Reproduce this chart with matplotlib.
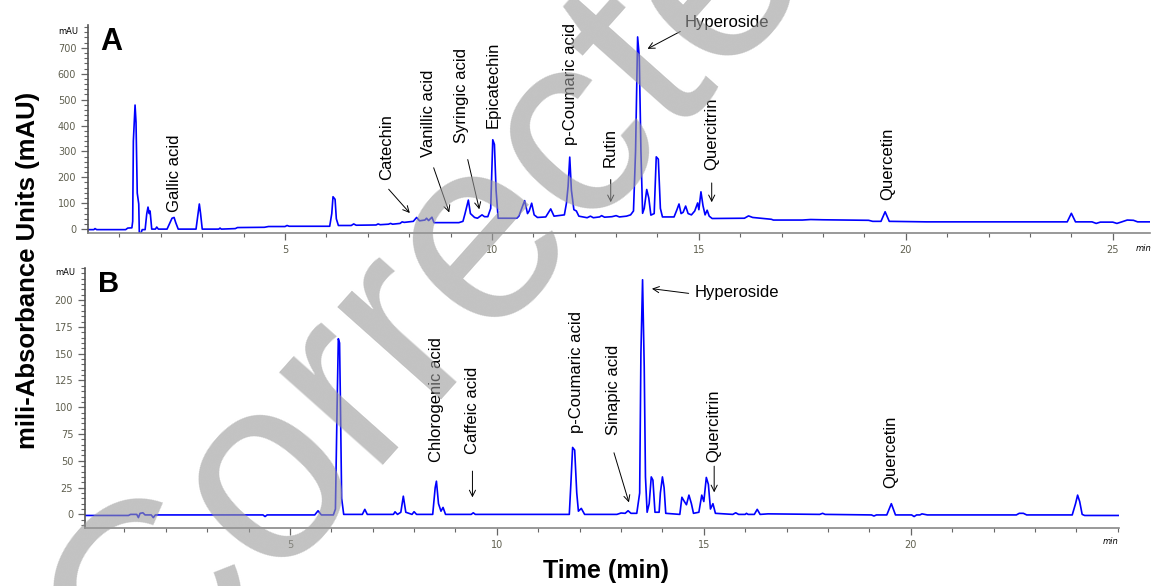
import matplotlib
matplotlib.use("Agg")
import matplotlib.pyplot as plt
from matplotlib.ticker import MultipleLocator

plt.rcParams['font.family'] = ['Liberation Sans', 'DejaVu Sans']

# Chromatogram A (time in min, absorbance in mAU)
time_a = [0.24, 0.38, 0.41, 0.45, 1.15, 1.20, 1.30, 1.32, 1.336, 1.377, 1.40, 1.43, 1.466, 1.48, 1.52, 1.55,
          1.62, 1.66, 1.69, 1.72, 1.74, 1.78, 1.87, 1.90, 1.94, 2.15, 2.22, 2.27, 2.32, 2.36, 2.42,
          2.85, 2.90, 2.93, 2.96, 3.00, 3.40, 3.43, 3.46, 3.80, 3.85, 4.5, 4.6, 5.0, 5.05, 5.1, 6.05,
          6.08, 6.13, 6.16, 6.21, 6.24, 6.29, 6.6, 6.66, 6.72, 7.2, 7.25, 7.3, 7.5, 7.55, 7.6, 7.78, 7.83,
          7.88, 8.1, 8.18, 8.25, 8.38, 8.42, 8.47, 8.55, 8.6, 9.2, 9.3, 9.35, 9.43, 9.48, 9.58, 9.65,
          9.76, 9.82, 9.9, 9.97, 10.02, 10.06, 10.1, 10.15, 10.6, 10.65, 10.72, 10.79, 10.86, 10.9,
          10.96, 11.02, 11.1, 11.3, 11.42, 11.5, 11.75, 11.8, 11.84, 11.88, 11.92, 11.98, 12.04, 12.1,
          12.3, 12.38, 12.45, 12.6, 12.65, 12.72, 12.9, 13.0, 13.08, 13.25, 13.35, 13.42, 13.47, 13.52,
          13.56, 13.6, 13.64, 13.68, 13.74, 13.79, 13.84, 13.92, 13.97, 14.02, 14.07, 14.12, 14.4,
          14.47, 14.52, 14.57, 14.62, 14.68, 14.74, 14.82, 14.9, 14.97, 15.0, 15.05, 15.1, 15.15, 15.2,
          15.25, 15.32, 16.1, 16.2, 16.3, 16.5, 16.75, 16.8, 17.5, 17.7, 18.0, 18.5, 19.1, 19.2, 19.4,
          19.5, 19.6, 20.5, 23.9, 24.0, 24.1, 24.5, 24.6, 24.7, 25.0, 25.1, 25.2, 25.35, 25.5, 25.6, 25.9]
mau_a = [-2, -2, 2, -2, -2, 4, 5, 30, 340, 479, 413, 139, 97, -15, -15, -2,
         -2, 60, 85, 60, 70, 0, 0, 8, 0, 0, 25, 42, 45, 25, 0,
         0, 60, 97, 60, 0, 0, 4, 0, 2, 6, 7, 10, 10, 14, 11, 11,
         11, 60, 125, 115, 40, 14, 14, 20, 15, 16, 20, 17, 19, 22, 19, 22, 28,
         26, 30, 45, 32, 35, 42, 33, 46, 25, 25, 30, 60, 112, 60, 45, 42,
         55, 48, 48, 80, 345, 327, 150, 42, 42, 50, 80, 110, 60, 70,
         100, 55, 45, 47, 78, 50, 55, 100, 165, 278, 150, 75, 70, 50,
         44, 50, 44, 47, 52, 46, 48, 52, 47, 50, 55, 70, 300, 742,
         665, 300, 61, 80, 153, 120, 54, 60, 279, 270, 80, 47, 47,
         75, 97, 60, 65, 89, 60, 55, 70, 101, 75, 144, 90, 55, 73,
         50, 41, 42, 51, 45, 42, 38, 35, 35, 37, 36, 35, 34, 30, 30,
         67, 30, 28, 28, 61, 28, 28, 22, 27, 27, 22, 27, 35, 34, 28, 28]

# Chromatogram B
time_b = [0.05, 1.1, 1.15, 1.3, 1.34, 1.38, 1.45, 1.5, 1.65, 1.7, 1.75, 4.35, 4.4, 4.45, 5.6, 5.68,
          5.76, 6.05, 6.1, 6.14, 6.17, 6.2, 6.22, 6.25, 6.3, 6.75, 6.81, 6.87, 7.5, 7.54, 7.6, 7.68,
          7.74, 7.8, 7.95, 8.0, 8.06, 8.45, 8.51, 8.54, 8.59, 8.65, 8.7, 8.76, 9.38, 9.43, 9.48, 11.75,
          11.79, 11.83, 11.88, 11.93, 11.97, 12.04, 12.12, 12.9, 13.0, 13.1, 13.17, 13.24, 13.38, 13.45,
          13.48, 13.52, 13.56, 13.59, 13.63, 13.68, 13.73, 13.77, 13.82, 13.92, 13.95, 14.0, 14.04,
          14.08, 14.42, 14.47, 14.53, 14.58, 14.64, 14.7, 14.75, 14.88, 14.95, 15.0, 15.06, 15.11,
          15.16, 15.22, 15.28, 15.7, 15.77, 15.84, 16.0, 16.03, 16.07, 16.22, 16.29, 16.36, 16.55,
          17.8, 17.87, 17.93, 19.05, 19.11, 19.17, 19.42, 19.53, 19.63, 20.02, 20.08, 20.14, 20.22,
          20.27, 20.4, 22.55, 22.62, 22.72, 22.8, 23.9, 23.98, 24.03, 24.08, 24.14, 24.2, 25.03]
mau_b = [-1, -1, 0, 0, -3, 1, 1.5, -0.5, -0.5, -3, -0.5, -0.5, -2, -0.5, -0.5, 3.4,
         -0.5, -0.5, 5, 100, 164, 160, 107, 15, 0, 0, 4.7, 0, 0, 2.4, 0, 2,
         17, 2, 0, 2.5, 0, 0, 25, 31, 10, 3, 6.5, 0, 0, 1.5, 0, 0,
         30, 62.5, 60, 20, 3, 5.6, 0, 0, 1.3, 1, 3.4, 1, 1, 20,
         150, 219, 138, 35, 2, 10, 35, 32, 2, 2, 20, 35, 25,
         1, 0, 16, 12, 9, 18, 10, 1, 2, 18, 12, 34.5, 28,
         5, 10, 1, 0, 1.5, 0, 0, 1, 0, 0, 4.7, 0, 0.5,
         0, 1, 0, -0.5, -1.5, -0.5, -0.5, 10, -0.5, -0.5, -2, -0.5, -0.5,
         0.5, -0.5, -0.5, 1, 1, -0.5, -0.5, 10, 18, 12, 0, -1, -1]

# Peak labels: name, label time, label bottom; arrows as (start, tip)
labels_a = ["Gallic acid", "Catechin", "Vanillic acid", "Syringic acid", "Epicatechin",
            "p-Coumaric acid", "Rutin", "Quercitrin", "Quercetin"]
label_t_a = [2.34, 7.46, 8.46, 9.27, 10.03, 11.91, 12.85, 15.31, 19.57]
label_y_a = [66, 189, 279, 331, 389, 324, 240, 228, 112]
arrows_a = [((7.46, 162), (8.06, 54)), ((8.57, 247), (8.99, 54)), ((9.40, 279), (9.71, 66)),
            ((12.87, 202), (12.87, 93)), ((15.31, 189), (15.31, 93)), ((14.61, 768), (13.70, 691))]

labels_b = ["Chlorogenic acid", "Caffeic acid", "p-Coumaric acid", "Sinapic acid", "Quercitrin",
            "Quercetin"]
label_t_b = [8.54, 9.41, 11.93, 12.81, 15.25, 19.51]
label_y_b = [49, 56, 75.6, 74, 49, 25]
arrows_b = [((9.41, 43), (9.41, 13.3)), ((12.81, 60), (13.21, 8.7)), ((15.25, 47.6), (15.25, 18)),
            ((14.70, 206), (13.68, 211))]

fig = plt.figure(figsize=(11.52, 5.86), dpi=100)
W, H = 1152.0, 586.0

ax_a = fig.add_axes([88 / W, 1 - 233 / H, (1150 - 88) / W, (233 - 25) / H])
ax_b = fig.add_axes([85 / W, 1 - 528 / H, (1119 - 85) / W, (528 - 268) / H])

tick_col = "#5f5f4f"
for ax in (ax_a, ax_b):
    for s in ("top", "right"):
        ax.spines[s].set_visible(False)
    ax.spines["left"].set_color("#555555")
    ax.spines["bottom"].set_color("#888888")
    ax.spines["left"].set_linewidth(1.2)
    ax.spines["bottom"].set_linewidth(1.2)
    ax.xaxis.set_minor_locator(MultipleLocator(1))
    ax.tick_params(axis="both", which="major", labelsize=7, labelcolor=tick_col, color="#666666",
                   length=5, width=0.9, direction="out")
    ax.tick_params(axis="both", which="minor", color="#666666", length=3, width=0.8, direction="out")
    ax.set_facecolor("none")

ax_a.plot(time_a, mau_a, color="#0000ff", lw=1.2)
ax_a.set_xlim(0.24, 25.9)
ax_a.set_ylim(-15, 788)
ax_a.set_xticks([5, 10, 15, 20, 25])
ax_a.yaxis.set_minor_locator(MultipleLocator(20))
ax_a.set_yticks([0, 100, 200, 300, 400, 500, 600, 700])

ax_b.plot(time_b, mau_b, color="#0000ff", lw=1.2)
ax_b.set_xlim(0.05, 25.03)
ax_b.set_ylim(-12.7, 230)
ax_b.set_xticks([5, 10, 15, 20])
ax_b.yaxis.set_minor_locator(MultipleLocator(5))
ax_b.set_yticks([0, 25, 50, 75, 100, 125, 150, 175, 200])

for ax in (ax_a, ax_b):
    for lab in ax.get_xticklabels() + ax.get_yticklabels():
        lab.set_family("DejaVu Sans")

arrow_style = dict(arrowstyle="->", color="black", lw=0.7, mutation_scale=11)

for name, t, y in zip(labels_a, label_t_a, label_y_a):
    ax_a.text(t, y, name, rotation=90, ha="center", va="bottom", fontsize=12)
for start, tip in arrows_a:
    ax_a.annotate("", xy=tip, xytext=start, arrowprops=arrow_style, annotation_clip=False)
ax_a.text(14.66, 797, "Hyperoside", ha="left", va="center", fontsize=12, clip_on=False)

for name, t, y in zip(labels_b, label_t_b, label_y_b):
    ax_b.text(t, y, name, rotation=90, ha="center", va="bottom", fontsize=12)
for start, tip in arrows_b:
    ax_b.annotate("", xy=tip, xytext=start, arrowprops=arrow_style, annotation_clip=False)
ax_b.text(14.78, 207, "Hyperoside", ha="left", va="center", fontsize=12)

# unit labels
fig.text(78 / W, 1 - 32 / H, "mAU", fontsize=6, ha="right", va="center", family="DejaVu Sans")
fig.text(75 / W, 1 - 273 / H, "mAU", fontsize=6, ha="right", va="center", family="DejaVu Sans")
fig.text(1136 / W, 1 - 248 / H, "min", fontsize=6, ha="left", va="center", style="italic",
         family="DejaVu Sans")
fig.text(1103 / W, 1 - 542 / H, "min", fontsize=6, ha="left", va="center", style="italic",
         family="DejaVu Sans")

# panel letters and axis titles
fig.text(100 / W, 1 - 50 / H, "A", fontsize=22, fontweight="bold", va="baseline")
fig.text(98 / W, 1 - 292 / H, "B", fontsize=21, fontweight="bold", va="baseline")
fig.text(28 / W, 1 - 270 / H, "mili-Absorbance Units (mAU)", rotation=90, ha="center", va="center",
         fontsize=18.5, fontweight="bold")
fig.text(606 / W, 1 - 571 / H, "Time (min)", ha="center", va="center", fontsize=18, fontweight="bold")

# watermark
fig.text(0.125, -0.225, "Corrected", rotation=48.3, rotation_mode="anchor", ha="left",
         va="baseline", fontsize=189, color="#9a9a9a", alpha=0.6, zorder=10)

fig.savefig("out.png", dpi=100)
